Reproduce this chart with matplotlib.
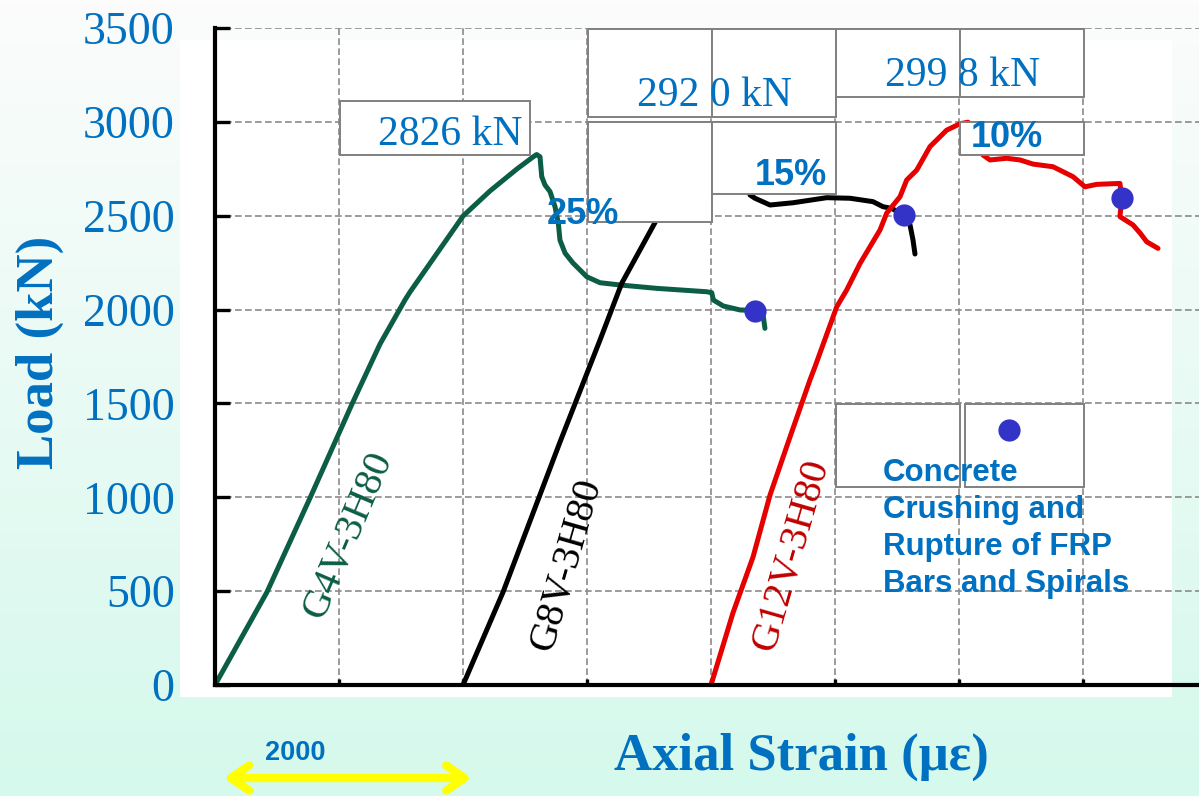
import numpy as np
import matplotlib.pyplot as plt
from matplotlib.patches import Rectangle
from matplotlib.transforms import blended_transform_factory

# ---- data ---------------------------------------------------------------
# G4V-3H80 (starts at 0 microstrain)
g4_strain = [0, 419, 766, 1105, 1331, 1532, 1573, 1758, 2000, 2218, 2435, 2565,
             2594, 2621, 2635, 2661, 2702, 2742, 2769, 2782, 2823, 2887, 2998,
             3105, 3266, 3562, 3965, 4006, 4019, 4099, 4234, 4355, 4422, 4435]
g4_load = [0, 495, 996, 1497, 1817, 2051, 2094, 2269, 2498, 2632, 2749, 2813,
           2826, 2814, 2708, 2664, 2628, 2548, 2459, 2370, 2301, 2248, 2175,
           2143, 2131, 2113, 2095, 2090, 2051, 2019, 1998, 1995, 1962, 1900]

# G8V-3H80 (shifted by 2000 microstrain)
g8_strain = [2000, 2323, 2782, 3105, 3280, 3548, 3700, 3850, 3980, 4100, 4200,
             4280, 4315, 4355, 4476, 4661, 4933, 5121, 5306, 5387, 5457, 5556,
             5605, 5629, 5645]
g8_load = [0, 495, 1294, 1838, 2140, 2463, 2640, 2800, 2900, 2920, 2860,
           2700, 2610, 2593, 2557, 2569, 2596, 2593, 2575, 2548, 2539, 2504,
           2451, 2371, 2296]

# G12V-3H80 (shifted by 4000 microstrain)
g12_strain = [4000, 4177, 4339, 4476, 4637, 4798, 4839, 5014, 5094, 5202, 5363,
              5417, 5524, 5578, 5659, 5766, 5901, 6008, 6073, 6120, 6160, 6194,
              6250, 6384, 6492, 6597, 6758, 6919, 7016, 7110, 7298, 7312, 7298,
              7403, 7460, 7514, 7605]
g12_load = [0, 384, 682, 1012, 1321, 1625, 1696, 2015, 2104, 2246, 2424,
            2514, 2601, 2690, 2743, 2868, 2956, 2990, 2998, 2940, 2860, 2823,
            2797, 2806, 2797, 2775, 2761, 2708, 2654, 2667, 2672, 2593, 2495,
            2451, 2408, 2361, 2326]

# failure points (concrete crushing and rupture of FRP bars/spirals)
fail_strain = [4355, 5556, 7312]
fail_load = [1995, 2504, 2593]

series_names = ["G4V-3H80", "G8V-3H80", "G12V-3H80"]
peak_labels = ["2826 kN", "292 0 kN", "299 8 kN"]
drop_labels = ["25%", "15%", "10%"]
y_ticks = [0, 500, 1000, 1500, 2000, 2500, 3000, 3500]
x_grid = [1000, 2000, 3000, 4000, 5000, 6000, 7000]
scale_len = 2000

# ---- styles -------------------------------------------------------------
BLUE = "#0070c0"
GREEN = "#0b5e45"
RED = "#e60000"
DOT = "#3333c8"
SERIF = "Liberation Serif"
SANS = "Liberation Sans"
LW = 3.6

W, H = 1199, 796
fig = plt.figure(figsize=(W / 100, H / 100), dpi=100)

# background: soft vertical gradient with a white panel behind the plot
bg = fig.add_axes([0, 0, 1, 1], zorder=-10)
top = np.array([252, 252, 252]) / 255
bot = np.array([213, 249, 236]) / 255
t = np.linspace(0, 1, 256)[:, None]
grad = (top[None, :] * (1 - t) + bot[None, :] * t)[:, None, :]
bg.imshow(grad, aspect="auto", extent=[0, 1, 0, 1], origin="upper")
bg.add_patch(Rectangle((180 / W, 1 - 697 / H), (1172 - 180) / W, (697 - 40) / H,
                       facecolor="white", edgecolor="none"))
bg.set_xlim(0, 1)
bg.set_ylim(0, 1)
bg.axis("off")

ax = fig.add_axes([215 / W, 1 - 685 / H, 1 - 215 / W, (685 - 28) / H])
ax.set_facecolor("none")
ax.set_xlim(0, (W - 215) / 124 * 1000)
ax.set_ylim(0, 3500)

for s in ["top", "right"]:
    ax.spines[s].set_visible(False)
for s in ["left", "bottom"]:
    ax.spines[s].set_linewidth(3.0)
    ax.spines[s].set_color("black")

ax.set_yticks(y_ticks)
ax.set_yticklabels([str(v) for v in y_ticks], fontfamily=SERIF, fontsize=33,
                   color=BLUE)
ax.set_xticks(x_grid)
ax.set_xticklabels([])
ax.tick_params(axis="y", direction="in", length=11, width=2.4, pad=29)
ax.tick_params(axis="x", direction="in", length=4, width=2.4)

ax.set_axisbelow(True)
ax.grid(True, color="#8a8a8a", linestyle=(0, (4, 2)), linewidth=1.2)

# curves
for xs, ys, c in [(g4_strain, g4_load, GREEN), (g8_strain, g8_load, "black"),
                  (g12_strain, g12_load, RED)]:
    ax.plot(xs, ys, color=c, lw=LW, zorder=2,
            solid_capstyle="round", solid_joinstyle="round")

# text boxes (white panels with grey outline)
boxes = [
    (1008, 2823, 1532, 288),
    (3008, 3026, 1000, 468), (4008, 3026, 1000, 468),
    (3008, 2466, 1000, 533), (4008, 2616, 1000, 383),
    (5008, 3132, 1000, 362), (6008, 3132, 1000, 362),
    (6008, 2823, 1000, 176),
    (5008, 1055, 1000, 442), (6048, 1055, 960, 442),
]
for x0, y0, w, h in boxes:
    ax.add_patch(Rectangle((x0, y0), w, h, facecolor="white",
                           edgecolor="#808080", lw=1.4, zorder=3))

# peak load labels
ax.text(1895, 2877, peak_labels[0], fontfamily=SERIF, fontsize=30, color=BLUE,
        ha="center", va="baseline", zorder=4)
ax.text(4028, 3084, peak_labels[1], fontfamily=SERIF, fontsize=30, color=BLUE,
        ha="center", va="baseline", zorder=4)
ax.text(6028, 3191, peak_labels[2], fontfamily=SERIF, fontsize=30, color=BLUE,
        ha="center", va="baseline", zorder=4)

# load drop labels
for (x, y), lab in zip([(2968, 2456), (4645, 2663), (6387, 2866)], drop_labels):
    ax.text(x, y, lab, fontfamily=SANS, fontweight="bold", fontsize=26,
            color=BLUE, ha="center", va="baseline", zorder=4)

# series labels along the ascending branches
ax.text(1073, 799, series_names[0], fontfamily=SERIF, fontsize=29, color=GREEN,
        rotation=67, ha="center", va="center", rotation_mode="anchor", zorder=4)
ax.text(2839, 639, series_names[1], fontfamily=SERIF, fontsize=29,
        color="black", rotation=74, ha="center", va="center",
        rotation_mode="anchor", zorder=4)
ax.text(4653, 692, series_names[2], fontfamily=SERIF, fontsize=29,
        color="#c00000", rotation=74, ha="center", va="center",
        rotation_mode="anchor", zorder=4)

# failure markers and key
ax.plot(fail_strain, fail_load, "o", color=DOT, ms=16, mec="none", zorder=5)
ax.plot([6403], [1358], "o", color=DOT, ms=16, mec="none", zorder=5)
key_lines = ["Concrete", "Crushing and", "Rupture of FRP", "Bars and Spirals"]
for i, line in enumerate(key_lines):
    ax.text(5387, 1087 - i * 197, line, fontfamily=SANS, fontweight="bold",
            fontsize=22.5, color=BLUE, ha="left", va="baseline", zorder=6)

# axis titles
fig.text(40 / W, 1 - 352 / H, "Load (kN)", fontfamily=SERIF, fontweight="bold",
         fontsize=38, color=BLUE, rotation=90, ha="center", va="center")
fig.text(801 / W, 1 - 757 / H, "Axial Strain (\u03bc\u03b5)", fontfamily=SERIF,
         fontweight="bold", fontsize=38, color=BLUE, ha="center", va="center")

# strain scale bar below the axis
trans = blended_transform_factory(ax.transData, fig.transFigure)
ax.annotate("", xy=(70, 1 - 778 / H), xytext=(70 + scale_len, 1 - 778 / H),
            xycoords=trans, textcoords=trans, annotation_clip=False,
            arrowprops=dict(arrowstyle="<->,head_length=1.3,head_width=0.9",
                            color="#ffff00", lw=6, shrinkA=0, shrinkB=0))
ax.text(650, 1 - 753 / H, str(scale_len), transform=trans, fontfamily=SANS,
        fontweight="bold", fontsize=19.5, color=BLUE, ha="center", va="center")

fig.savefig("out.png", dpi=100)
